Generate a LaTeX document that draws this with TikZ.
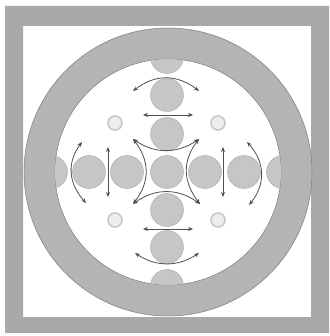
\documentclass[tikz,border=0pt]{standalone}
\usetikzlibrary{arrows.meta}
\definecolor{framegray}{HTML}{A9A9A9}
\definecolor{ringgray}{HTML}{B4B4B4}
\definecolor{ballgray}{HTML}{C6C6C6}
\definecolor{arrowgray}{HTML}{505050}
\definecolor{lightfill}{HTML}{EDEDED}
\definecolor{lightedge}{HTML}{C8C8C8}
\tikzset{
  ball/.style={circle,fill=ballgray,draw=ballgray!85!black,line width=0.4pt,minimum size=33pt,inner sep=0pt},
  lightball/.style={circle,fill=lightfill,draw=lightedge,line width=1.6pt,minimum size=14pt,inner sep=0pt},
  dblarrow/.style={arrowgray,line width=0.8pt,{Stealth[length=5pt,width=4pt]}-{Stealth[length=5pt,width=4pt]}},
}
\begin{document}
\begin{tikzpicture}[x=1pt,y=-1pt]
\useasboundingbox (0,0) rectangle (329,336);
\fill[white] (0,0) rectangle (329,336);
% frame
\fill[framegray,even odd rule] (5,6) rectangle (329,333) (23,26) rectangle (311,317);
% ring
\fill[ringgray,even odd rule] (168,172) circle[radius=144] (168,172) circle[radius=113];
\draw[ringgray!70!black,line width=0.5pt] (168,172) circle[radius=144];
\draw[ringgray!70!black,line width=0.5pt] (168,172) circle[radius=113];
% balls
\begin{scope}
\clip (168,172) circle[radius=112.7];
\node[ball] (c) at (167,172) {};
\node[ball] (l1) at (127,172) {};
\node[ball] (l2) at (89,172) {};
\node[ball] (l3) at (51,172) {};
\node[ball] (r1) at (205,172) {};
\node[ball] (r2) at (244,172) {};
\node[ball] (r3) at (283,172) {};
\node[ball] (u1) at (167,134) {};
\node[ball] (u2) at (167,95) {};
\node[ball] (u3) at (167,57) {};
\node[ball] (d1) at (167,210) {};
\node[ball] (d2) at (167,247) {};
\node[ball] (d3) at (167,286) {};
\end{scope}
% light circles
\node[lightball] (q1) at (115,123) {};
\node[lightball] (q2) at (218,123) {};
\node[lightball] (q3) at (115,220) {};
\node[lightball] (q4) at (218,220) {};
% arrow end points
\coordinate (ta) at (133,91);  \coordinate (tb) at (199,91);
\coordinate (sa) at (143,115); \coordinate (sb) at (193,115);
\coordinate (k1) at (133,139); \coordinate (k2) at (199,139);
\coordinate (k3) at (133,204); \coordinate (k4) at (200,204);
\coordinate (va) at (108,147); \coordinate (vb) at (108,197);
\coordinate (wa) at (223,147); \coordinate (wb) at (223,197);
\coordinate (oa) at (82,142);  \coordinate (ob) at (86,203);
\coordinate (pa) at (247,142); \coordinate (pb) at (249,205);
\coordinate (ba) at (143,229); \coordinate (bb) at (193,229);
\coordinate (ga) at (135,253); \coordinate (gb) at (199,253);
% arrows
\draw[dblarrow] (ta) .. controls (155,74) and (177,74) .. (tb);
\draw[dblarrow] (sa) -- (sb);
\draw[dblarrow] (k1) .. controls (155,154) and (177,154) .. (k2);
\draw[dblarrow] (k3) .. controls (155,188) and (178,188) .. (k4);
\draw[dblarrow] (k1) .. controls (150,161) and (150,182) .. (k3);
\draw[dblarrow] (k2) .. controls (182,161) and (183,182) .. (k4);
\draw[dblarrow] (va) -- (vb);
\draw[dblarrow] (wa) -- (wb);
\draw[dblarrow] (oa) .. controls (67,162) and (68,183) .. (ob);
\draw[dblarrow] (pa) .. controls (265,162) and (266,184) .. (pb);
\draw[dblarrow] (ba) -- (bb);
\draw[dblarrow] (ga) .. controls (156,267) and (178,267) .. (gb);
\end{tikzpicture}
\end{document}
